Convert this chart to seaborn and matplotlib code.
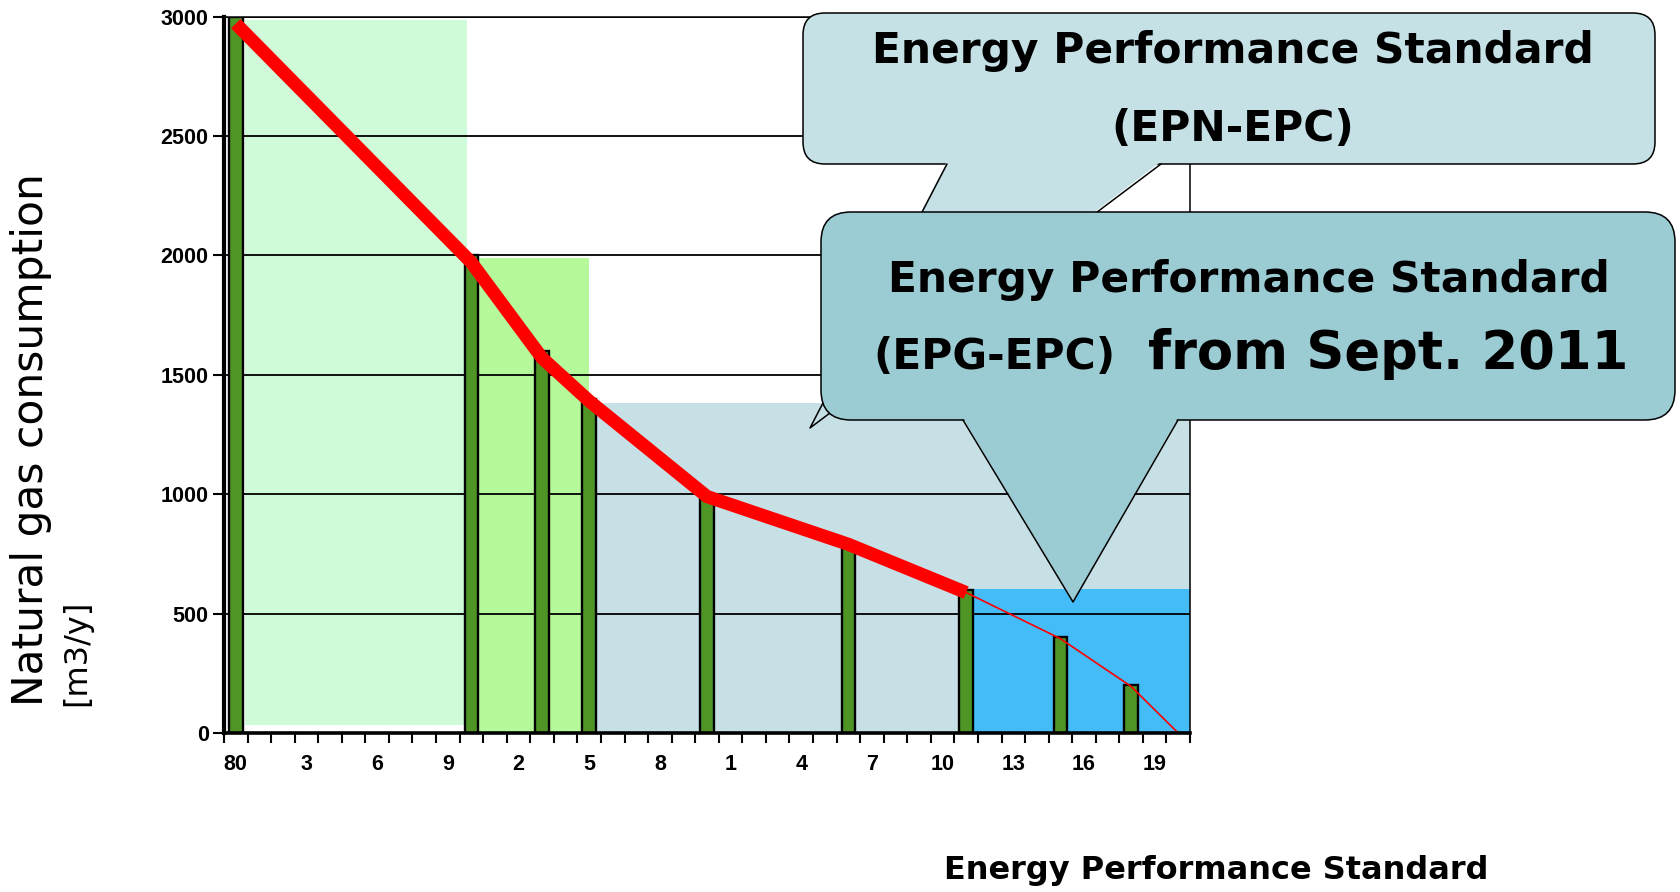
import numpy as np
import pandas as pd
import matplotlib
matplotlib.use("Agg")
import matplotlib.pyplot as plt
from matplotlib.patches import FancyBboxPatch, Polygon
import seaborn as sns

# data
years_all = list(range(1980, 2021))
bar_years = [1980, 1990, 1993, 1995, 2000, 2006, 2011, 2015, 2018]
bar_values = [3000, 2000, 1600, 1400, 1000, 800, 600, 400, 200]
trend_years = [1980, 1990, 1993, 1995, 2000, 2006, 2011]
trend_values = [2970, 1970, 1570, 1390, 990, 790, 588]
future_years = [2011, 2015, 2018, 2020]
future_values = [588, 395, 195, 0]
tick_years = list(range(1980, 2020, 3))
tick_labels = ["80", "3", "6", "9", "2", "5", "8", "1", "4", "7", "10", "13", "16", "19"]
# shaded standard periods (category index from, to, height)
zone_from = [0.4, 9.8, 15.0, 31.25]
zone_to = [9.8, 15.0, 40.5, 40.5]
zone_low = [35, 0, 0, 0]
zone_high = [2985, 1990, 1380, 605]
zone_colors = ["#cffbd9", "#b5f99b", "#c6e0e5", "#43bcf8"]

sns.set_style("white")
plt.rcParams["font.family"] = ["DejaVu Sans"]
plt.rcParams["text.color"] = "black"
plt.rcParams["xtick.color"] = "black"
plt.rcParams["ytick.color"] = "black"

fig = plt.figure(figsize=(16.8, 8.92), dpi=100)
ax = fig.add_axes([224 / 1680, 1 - 733 / 892, 966 / 1680, 716.5 / 892])

pos = {y: i for i, y in enumerate(years_all)}

for x0, x1, lo, hi, c in zip(zone_from, zone_to, zone_low, zone_high, zone_colors):
    ax.fill_between([x0, x1], lo, hi, color=c, lw=0, zorder=0.3)

df = pd.DataFrame({"year": bar_years, "gas": bar_values})
sns.barplot(data=df, x="year", y="gas", order=years_all, width=0.58,
            color="#4e9526", saturation=1, edgecolor="black", linewidth=1.7,
            ax=ax, zorder=2)

sns.lineplot(x=[pos[y] for y in trend_years], y=trend_values, color="red",
             lw=9.5, solid_capstyle="butt", solid_joinstyle="miter", ax=ax, zorder=3)
sns.lineplot(x=[pos[y] for y in future_years], y=future_values, color="red",
             lw=1.2, ax=ax, zorder=3)

ax.set_xlim(-0.5, 40.5)
ax.set_ylim(0, 3000)
ax.set_xlabel("")
ax.set_ylabel("")
ax.set_axisbelow(True)
ax.yaxis.grid(True, color="black", lw=1.3)
ax.set_yticks(range(0, 3001, 500))
ax.set_xticks([pos[y] for y in tick_years])
ax.set_xticklabels(tick_labels)
ax.set_xticks(np.arange(-0.5, 41, 1), minor=True)
ax.tick_params(axis="x", which="major", length=0, pad=15)
ax.tick_params(axis="x", which="minor", length=7.5, width=1.5, direction="out", bottom=True)
ax.tick_params(axis="y", length=8, width=1.5, direction="out", pad=3, left=True)
for lab in ax.get_xticklabels() + ax.get_yticklabels():
    lab.set_fontfamily("Liberation Sans")
    lab.set_fontweight("bold")
    lab.set_fontsize(15.5)
for side, w in [("left", 3), ("bottom", 2.6), ("top", 1.1), ("right", 1.1)]:
    ax.spines[side].set_visible(True)
    ax.spines[side].set_linewidth(w)
    ax.spines[side].set_color("black")
    ax.spines[side].set_zorder(4)

# overlay in pixel coordinates for callouts and labels
ov = fig.add_axes([0, 0, 1, 1])
ov.set_xlim(0, 1680)
ov.set_ylim(892, 0)
ov.axis("off")
ov.patch.set_alpha(0)


def bubble(x0, y0, x1, y1, r, base_l, base_r, tip, fc, z):
    ov.add_patch(FancyBboxPatch((x0, y0), x1 - x0, y1 - y0,
                                boxstyle=f"round,pad=0,rounding_size={r}",
                                fc=fc, ec="black", lw=1.1, zorder=z))
    ov.add_patch(Polygon([(base_l, y1 - 2.5), (base_r, y1 - 2.5), tip],
                         closed=True, fc=fc, ec="none", lw=0, zorder=z + 0.1))
    ov.plot([base_l, tip[0], base_r], [y1, tip[1], y1], color="black", lw=1.1,
            zorder=z + 0.2)


bubble(803, 13, 1655, 164, 22, 947, 1161, (810, 428), "#c5e1e5", 1)
bubble(821, 212, 1675, 420, 30, 963, 1178, (1073, 602), "#9bccd4", 2)

big = dict(fontsize=30.5, fontweight="bold", va="baseline", zorder=5)
ov.text(1233, 63, "Energy Performance Standard", ha="center", **big)
ov.text(1233, 141, "(EPN-EPC)", ha="center", **big)
ov.text(1249, 292, "Energy Performance Standard", ha="center", **big)
ov.text(873, 369, "(EPG-EPC)", ha="left", **big)
ov.text(1148, 369, "from Sept. 2011", ha="left", fontsize=38, fontweight="bold",
        va="baseline", zorder=5)

ov.text(1216, 871, "Energy Performance Standard", ha="center", va="center",
        fontsize=23, fontweight="bold")
ov.text(43, 706, "Natural gas consumption", rotation=90, rotation_mode="anchor",
        ha="left", va="baseline", fontsize=30.5)
ov.text(85, 706, "[m3/y]", rotation=90, rotation_mode="anchor",
        ha="left", va="baseline", fontsize=23)

fig.savefig("out.png", dpi=100)
